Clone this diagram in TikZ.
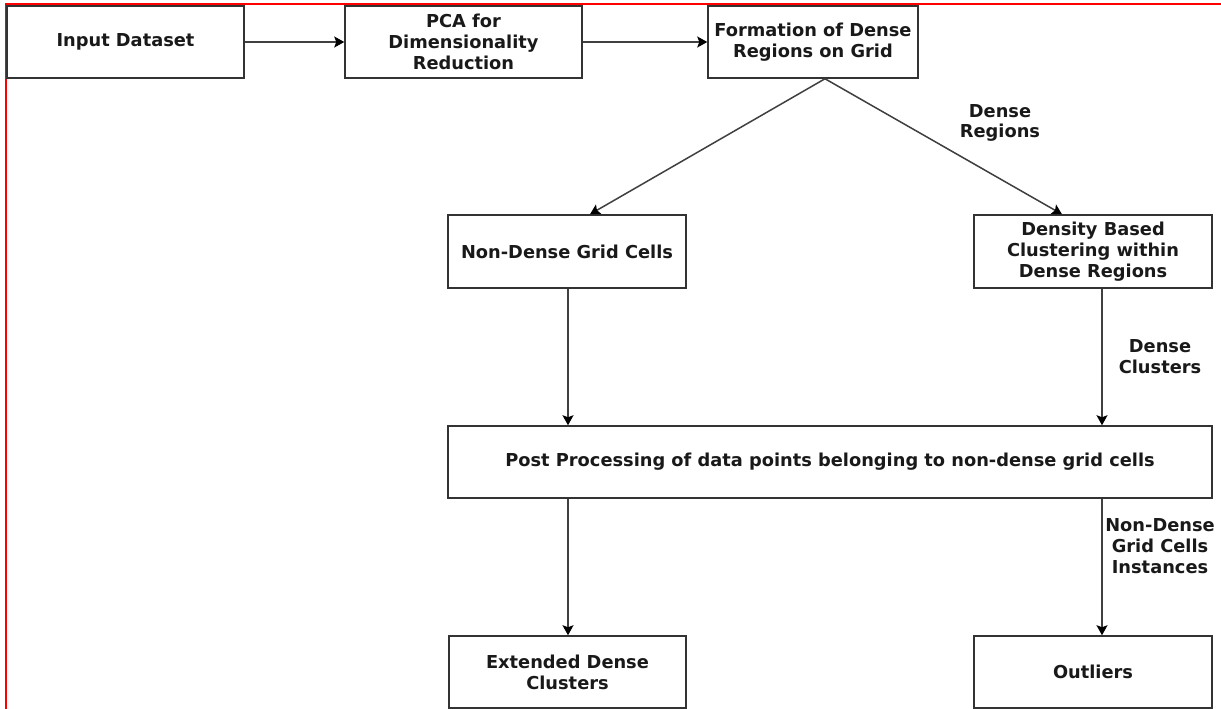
\documentclass[tikz,border=0pt]{standalone}
\usepackage{fontspec}
\setmainfont{DejaVu Sans}
\usetikzlibrary{arrows.meta,calc}
\begin{document}
\begin{tikzpicture}[x=1pt,y=-1pt,
  box/.style={draw=black!80,line width=1.5pt,fill=white,align=center,inner sep=0pt,
    font=\fontsize{17.8}{20.8}\selectfont\bfseries,text=black!90},
  lbl/.style={align=center,inner sep=0pt,font=\fontsize{17.8}{20.8}\selectfont\bfseries,text=black!90},
  conn/.style={draw=black!75,line width=1.5pt,-{Stealth[length=10pt,width=11pt,inset=2pt,color=black]}}]
\useasboundingbox (0,0) rectangle (1221,709);
\fill[white] (0,0) rectangle (1221,709);
% red frame
\draw[red,line width=2pt] (5.7,709) -- (5.7,4.3) -- (1221,4.3);
% boxes
\node[box,minimum width=237pt,minimum height=72pt] (inp) at (125.5,42) {Input Dataset};
\node[box,minimum width=237pt,minimum height=72pt] (pca) at (463.5,42) {PCA for\\Dimensionality\\Reduction};
\node[box,minimum width=210pt,minimum height=72pt] (form) at (813,42) {Formation of Dense\\Regions on Grid};
\node[box,minimum width=238pt,minimum height=73pt] (nd) at (567,251.5) {Non-Dense Grid Cells};
\node[box,minimum width=238pt,minimum height=73pt] (db) at (1093,251.5) {Density Based\\Clustering within\\Dense Regions};
\node[box,minimum width=764pt,minimum height=72pt] (pp) at (830,462) {Post Processing of data points belonging to non-dense grid cells};
\node[box,minimum width=237pt,minimum height=72pt] (ext) at (567.5,672) {Extended Dense\\Clusters};
\node[box,minimum width=238pt,minimum height=72pt] (out) at (1093,672) {Outliers};
% labels
\node[lbl] (l1) at (1000,123) {Dense\\Regions};
\node[lbl] (l2) at (1160,357) {Dense\\Clusters};
\node[lbl] (l3) at (1160,546) {Non-Dense\\Grid Cells\\Instances};
% connectors
\coordinate (fb) at ($(form.south)+(12,0)$);
\coordinate (ndin) at ($(nd.north)+(23,0)$);
\coordinate (dbin) at ($(db.north)+(-31,0)$);
\coordinate (ndout) at ($(nd.south)+(1,0)$);
\coordinate (dbout) at ($(db.south)+(9,0)$);
\coordinate (ppl) at (ndout |- pp.south);
\coordinate (ppr) at (dbout |- pp.south);
\draw[conn] (inp.east) -- (pca.west);
\draw[conn] (pca.east) -- (form.west);
\draw[conn] (fb) -- (ndin);
\draw[conn] (fb) -- (dbin);
\draw[conn] (ndout) -- (ndout |- pp.north);
\draw[conn] (dbout) -- (dbout |- pp.north);
\draw[conn] (ppl) -- (ppl |- ext.north);
\draw[conn] (ppr) -- (ppr |- out.north);
\end{tikzpicture}
\end{document}
